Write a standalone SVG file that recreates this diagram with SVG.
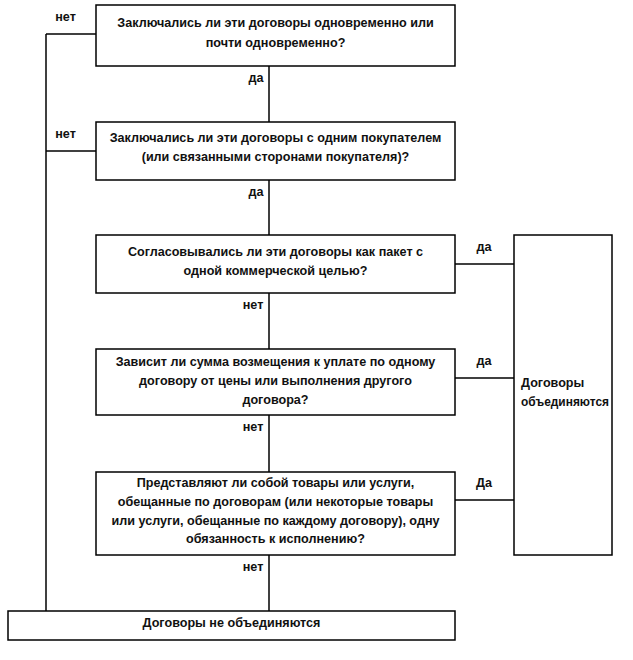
<svg xmlns="http://www.w3.org/2000/svg" width="633" height="660" viewBox="0 0 633 660">
<style>
rect{fill:#fff;stroke:#000;stroke-width:1.5}
line{stroke:#000;stroke-width:1.5}
text{font-family:"Liberation Sans",Arial,sans-serif;font-size:12.6px;font-weight:bold;fill:#111}
.c{text-anchor:middle}
</style>
<rect x="0" y="0" width="633" height="660" style="stroke:none"/>
<g id="connectors">
<line x1="269" y1="66" x2="269" y2="122"/>
<line x1="269" y1="180" x2="269" y2="235"/>
<line x1="269" y1="293" x2="269" y2="349"/>
<line x1="269" y1="415" x2="269" y2="472"/>
<line x1="269" y1="555" x2="269" y2="611"/>
<line x1="46" y1="34" x2="46" y2="611"/>
<line x1="46" y1="34" x2="96" y2="34"/>
<line x1="46" y1="151" x2="96" y2="151"/>
<line x1="455" y1="264" x2="514" y2="264"/>
<line x1="455" y1="378" x2="514" y2="378"/>
<line x1="455" y1="500" x2="514" y2="500"/>
<text x="65.5" y="21" class="c">нет</text>
<text x="256" y="82" class="c">да</text>
<text x="65.5" y="138" class="c">нет</text>
<text x="256" y="196" class="c">да</text>
<text x="484" y="251" class="c">да</text>
<text x="253" y="309" class="c">нет</text>
<text x="484" y="365" class="c">да</text>
<text x="253" y="431" class="c">нет</text>
<text x="484" y="487" class="c">Да</text>
<text x="253" y="571" class="c">нет</text>
</g>
<g id="q1">
<rect x="96" y="5" width="359" height="61"/>
<text x="275.5" y="27" class="c">Заключались ли эти договоры одновременно или</text>
<text x="275.5" y="47" class="c">почти одновременно?</text>
</g>
<g id="q2">
<rect x="96" y="122" width="359" height="58"/>
<text x="275.5" y="142" class="c">Заключались ли эти договоры с одним покупателем</text>
<text x="275.5" y="161" class="c">(или связанными сторонами покупателя)?</text>
</g>
<g id="q3">
<rect x="96" y="235" width="359" height="58"/>
<text x="275.5" y="256" class="c">Согласовывались ли эти договоры как пакет с</text>
<text x="275.5" y="275" class="c">одной коммерческой целью?</text>
</g>
<g id="q4">
<rect x="96" y="349" width="359" height="66"/>
<text x="275.5" y="366" class="c">Зависит ли сумма возмещения к уплате по одному</text>
<text x="275.5" y="385" class="c">договору от цены или выполнения другого</text>
<text x="275.5" y="404" class="c">договора?</text>
</g>
<g id="q5">
<rect x="96" y="472" width="359" height="83"/>
<text x="275.5" y="487" class="c">Представляют ли собой товары или услуги,</text>
<text x="275.5" y="506" class="c">обещанные по договорам (или некоторые товары</text>
<text x="275.5" y="525" class="c">или услуги, обещанные по каждому договору), одну</text>
<text x="275.5" y="543" class="c">обязанность к исполнению?</text>
</g>
<g id="combined">
<rect x="514" y="235" width="98" height="320"/>
<text x="521" y="387">Договоры</text>
<text x="521" y="406" textLength="88" lengthAdjust="spacingAndGlyphs">объединяются</text>
</g>
<g id="notcombined">
<rect x="8" y="611" width="447" height="29"/>
<text x="231.5" y="627" class="c">Договоры не объединяются</text>
</g>
</svg>
